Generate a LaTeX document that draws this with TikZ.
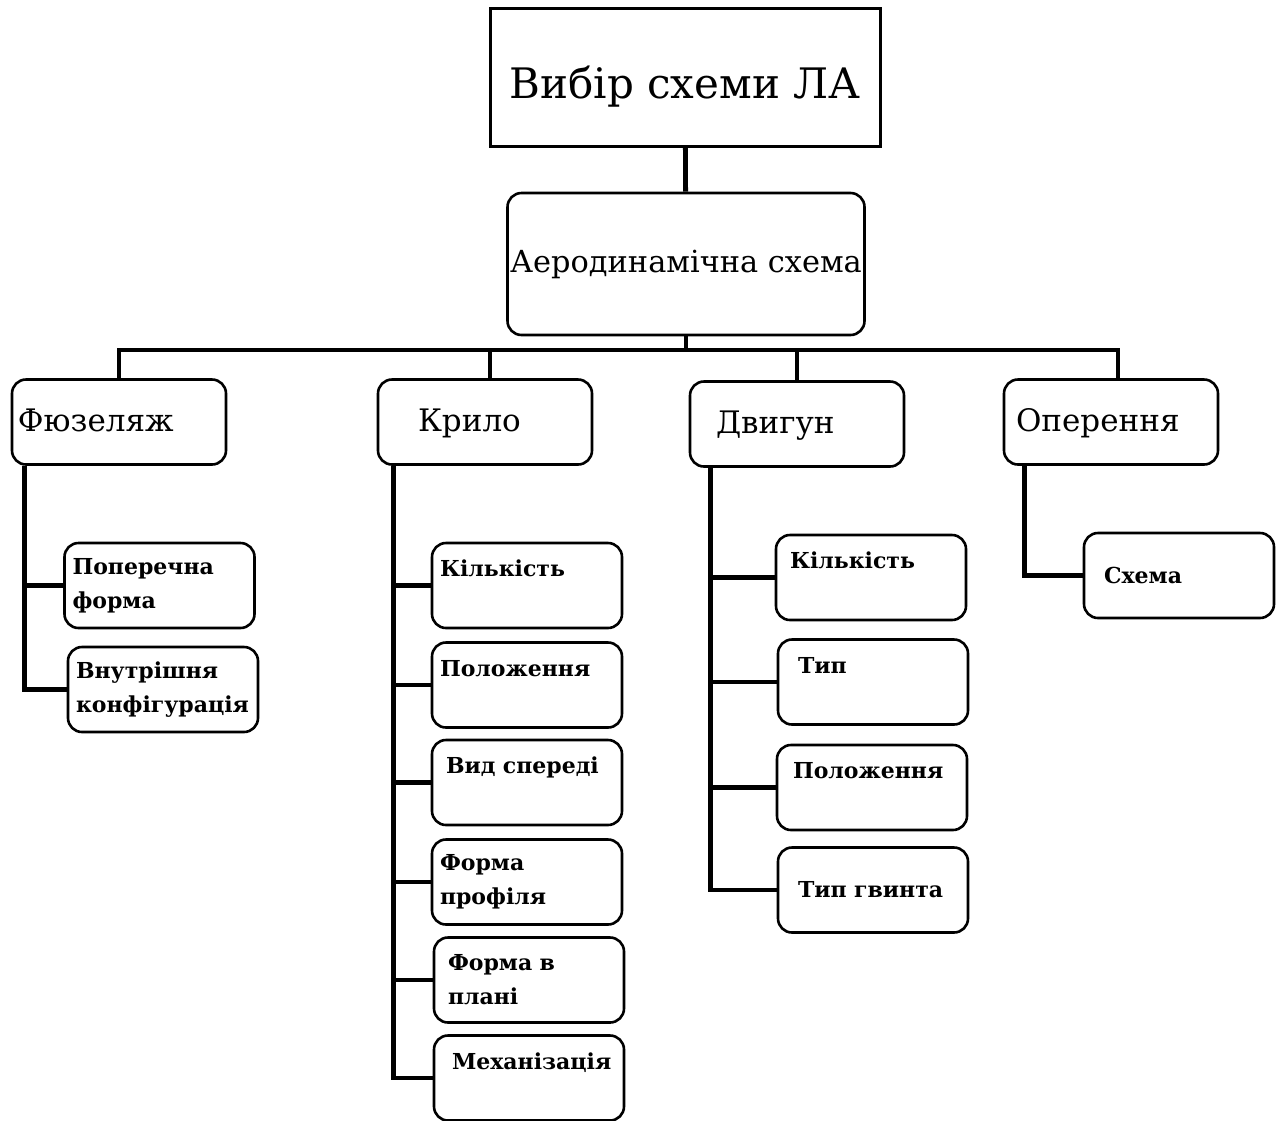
\documentclass[tikz,border=0pt]{standalone}
\usepackage{fontspec}
\setmainfont{DejaVu Serif}
\usetikzlibrary{positioning}
\tikzset{
  box/.style={draw, line width=1.3pt, rounded corners=7pt, inner sep=0pt},
  title/.style={draw, line width=1.5pt, minimum width=195pt, minimum height=69pt, text height=21pt, text depth=0pt, font=\fontsize{21}{26}\selectfont},
  aero/.style={box, minimum width=178.5pt, minimum height=71pt, font=\fontsize{15.2}{20}\selectfont},
  group/.style={box, minimum height=42.5pt, inner xsep=3pt, text width=101pt, text height=12pt, text depth=3pt, align=left, font=\fontsize{15.5}{19}\selectfont},
  leaf/.style={box, minimum height=42.5pt, inner xsep=4pt, text width=87pt, align=left, font=\fontsize{11}{17}\selectfont\bfseries},
  link/.style={line width=2.4pt},
}
\begin{document}
\begin{tikzpicture}[x=0.5pt, y=-0.5pt]
\useasboundingbox (0,0) rectangle (1279,1120);
% top
\node[title] (choice) at (685,77) {Вибір схеми ЛА};
\node[aero] (aero) at (686,264) {Аеродинамічна схема};
% groups
\node[group] (fus) at (119,422) {Фюзеляж};
\node[group] (wing) at (485,422) {\hspace*{17pt}Крило};
\node[group] (eng) at (797,424) {\hspace*{10pt}Двигун};
\node[group] (tail) at (1111,422) {\hspace*{3pt}Оперення};
% fuselage
\node[leaf] (fus1) at (159.5,585.5) {Поперечна\\форма};
\node[leaf] (fus2) at (163,689.5) {Внутрішня\\конфігурація};
% wing
\node[leaf] (wing1) at (527,585.5) {Кількість\\\mbox{}};
\node[leaf] (wing2) at (527,685) {Положення\\\mbox{}};
\node[leaf] (wing3) at (527,782.5) {\hspace*{3pt}Вид спереді\\\mbox{}};
\node[leaf] (wing4) at (527,882) {Форма\\профіля};
\node[leaf] (wing5) at (529,980) {\hspace*{3pt}Форма в\\\hspace*{3pt}плані};
\node[leaf] (wing6) at (529,1078) {\hspace*{5pt}Механізація\\\mbox{}};
% engine
\node[leaf] (eng1) at (871,577.5) {\hspace*{3pt}Кількість\\\mbox{}};
\node[leaf] (eng2) at (873,682) {\hspace*{6pt}Тип\\\mbox{}};
\node[leaf] (eng3) at (872,787.5) {\hspace*{4pt}Положення\\\mbox{}};
\node[leaf] (eng4) at (873,890) {\hspace*{6pt}Тип гвинта};
% tail
\node[leaf] (tail1) at (1179,575.5) {\hspace*{6pt}Схема};

% connectors
\coordinate (bus) at (686,350);
\draw[link] (choice) -- (aero);
\draw[link] (aero) -- (bus);
\draw[link] (fus.north) |- (bus) -| ([xshift=3.5pt]tail.north);
\draw[link] ([xshift=2.5pt]wing.north) -- ([xshift=2.5pt]wing.north |- bus);
\draw[link] (eng.north) -- (eng.north |- bus);

\coordinate (fustrunk) at ([xshift=7pt]fus.south west);
\coordinate (wingtrunk) at ([xshift=8.5pt]wing.south west);
\coordinate (engtrunk) at ([xshift=11pt]eng.south west);
\coordinate (tailtrunk) at ([xshift=11pt]tail.south west);

\draw[link] (fustrunk) |- (fus2.west);
\draw[link] (fustrunk |- fus1.west) -- (fus1.west);
\draw[link] (wingtrunk) |- (wing6.west);
\foreach \n in {1,...,5}
  \draw[link] (wingtrunk |- wing\n.west) -- (wing\n.west);
\draw[link] (engtrunk) |- (eng4.west);
\foreach \n in {1,...,3}
  \draw[link] (engtrunk |- eng\n.west) -- (eng\n.west);
\draw[link] (tailtrunk) |- (tail1.west);
\end{tikzpicture}
\end{document}
